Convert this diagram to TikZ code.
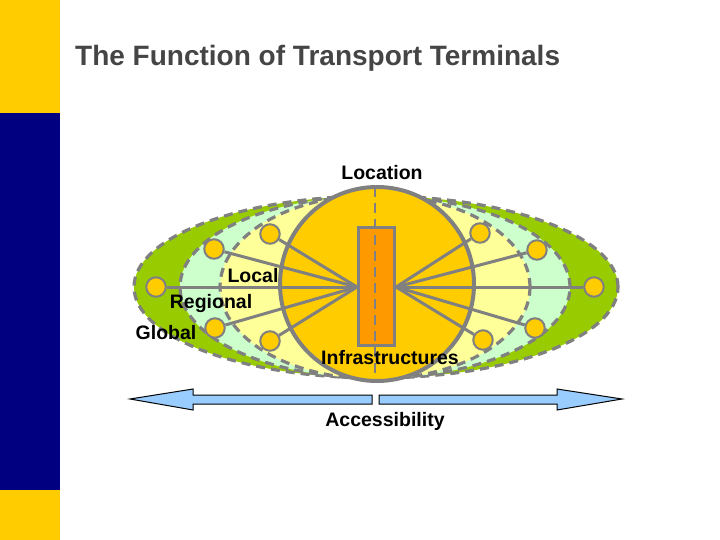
\documentclass[tikz,border=0pt]{standalone}
\usepackage{fontspec}
\setmainfont{Liberation Sans}
\begin{document}
\begin{tikzpicture}[x=1pt,y=-1pt,
  lbl/.style={font=\bfseries\fontsize{19.5}{22}\selectfont, text=black, inner sep=0pt, anchor=base},
  zone/.style={draw=linegray, line width=3.2pt, dash pattern=on 9pt off 6pt},
  spoke/.style={draw=linegray, line width=3pt},
  dot/.style={circle, draw=linegray, line width=2pt, fill=sunyellow, minimum size=19.5pt, inner sep=0pt},
  termbox/.style={draw=linegray, line width=3pt, fill=termorange, minimum width=36pt, minimum height=118pt, inner sep=0pt},
  arrowshape/.style={draw=black, line width=1pt, fill=skyblue, line join=miter}]
\definecolor{sunyellow}{HTML}{FFCC00}
\definecolor{navyblue}{HTML}{000080}
\definecolor{globalgreen}{HTML}{99CC00}
\definecolor{regmint}{HTML}{CCFFCC}
\definecolor{locyellow}{HTML}{FFFF99}
\definecolor{termorange}{HTML}{FF9900}
\definecolor{linegray}{HTML}{808080}
\definecolor{skyblue}{HTML}{99CCFF}
\definecolor{titlegray}{HTML}{454545}
\useasboundingbox (0,0) rectangle (720,540);
% side bar
\fill[sunyellow] (0,0) rectangle (60,113);
\fill[navyblue] (0,113) rectangle (60,490);
\fill[sunyellow] (0,490) rectangle (60,540);
% title
\node[font=\bfseries\fontsize{28}{33}\selectfont, text=titlegray, anchor=base west, inner sep=0pt] (title) at (75,66) {The Function of Transport Terminals};
% zones
\draw[zone, fill=globalgreen] (376,287) ellipse [x radius=242pt, y radius=91pt];
\draw[zone, fill=regmint] (375,287) ellipse [x radius=195pt, y radius=91pt];
\draw[zone, fill=locyellow] (375,287) ellipse [x radius=155pt, y radius=92pt];
% location circle
\draw[draw=linegray, line width=4pt, fill=sunyellow] (377,284) circle [radius=97pt];
% dots
\node[dot] (l1) at (270,234) {};
\node[dot] (l2) at (214,249) {};
\node[dot] (l3) at (156,287) {};
\node[dot] (l4) at (215,328) {};
\node[dot] (l5) at (270,341) {};
\node[dot] (r1) at (480,233) {};
\node[dot] (r2) at (537,250) {};
\node[dot] (r3) at (594,287) {};
\node[dot] (r4) at (535,328) {};
\node[dot] (r5) at (483,340) {};
% spokes to the terminal's two sides
\coordinate (cw) at (357,287);
\coordinate (ce) at (396,287);
\foreach \n in {l1,l2,l3,l4,l5} \draw[spoke] (\n) -- (cw);
\foreach \n in {r1,r2,r3,r4,r5} \draw[spoke] (\n) -- (ce);
% terminal
\node[termbox] (term) at (376.5,286.5) {};
\coordinate (ctop) at (375,187);
\coordinate (cbot) at (375,381);
\draw[draw=linegray, line width=2.5pt, dash pattern=on 10pt off 6pt] (ctop) -- (cbot);
% accessibility arrows
\draw[arrowshape] (130,399) -- (193,389) -- (193,395) -- (372,395) -- (372,404) -- (193,404) -- (193,410) -- cycle;
\draw[arrowshape] (622,399) -- (557,389) -- (557,395) -- (379,395) -- (379,404) -- (557,404) -- (557,410) -- cycle;
% labels
\node[lbl] (loc) at (382,180) {Location};
\node[lbl] (local) at (253,282) {Local};
\node[lbl] (reg) at (211,308) {Regional};
\node[lbl] (glob) at (166,339) {Global};
\node[lbl] (infra) at (390,364) {Infrastructures};
\node[lbl] (acc) at (385,426) {Accessibility};
\end{tikzpicture}
\end{document}
